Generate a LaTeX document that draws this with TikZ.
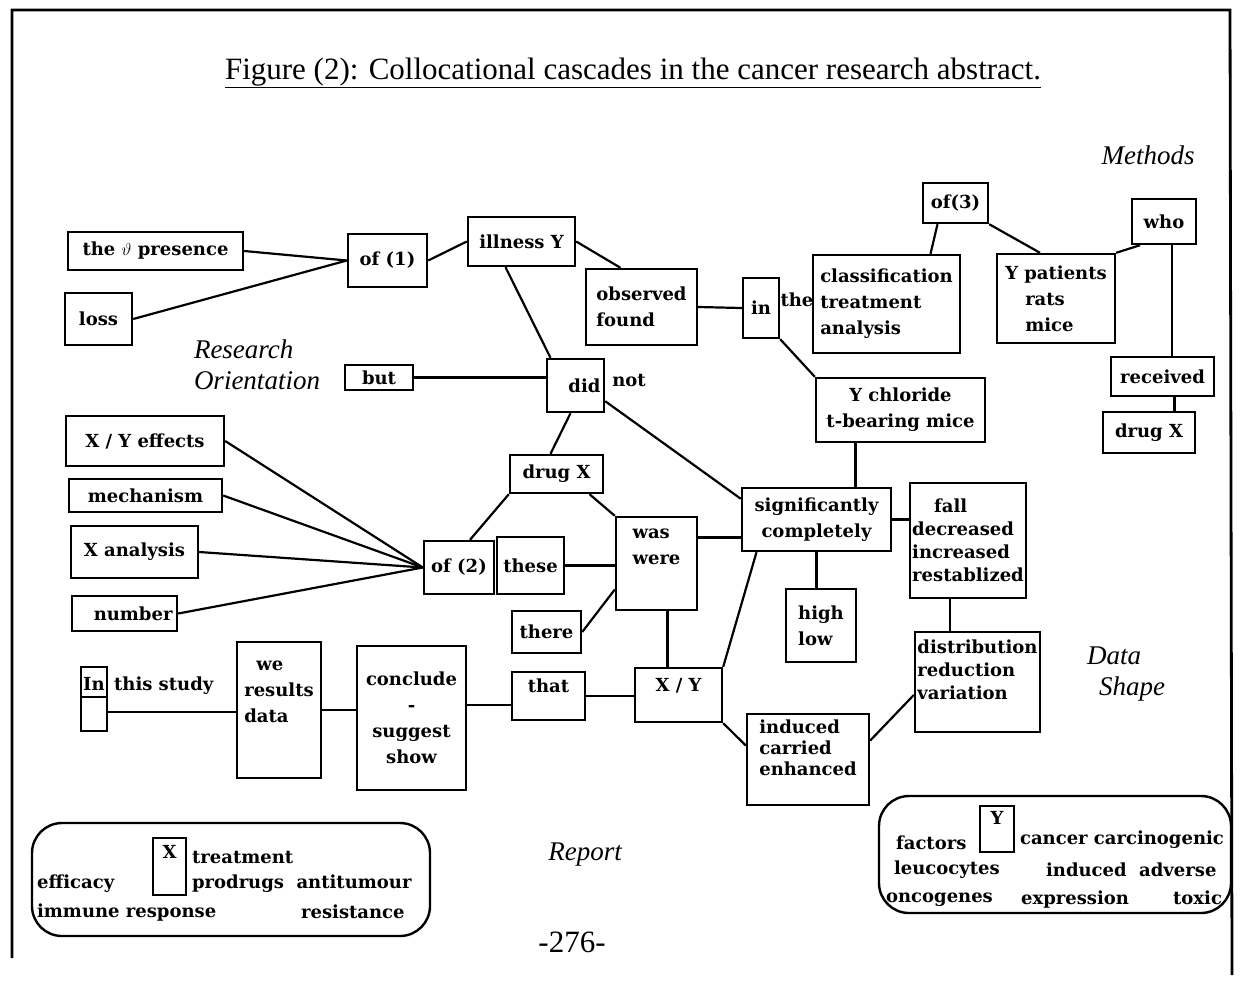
\documentclass[tikz,border=0pt]{standalone}
\usepackage{fontspec}
\setmainfont{Liberation Serif}
\newfontfamily\boxfont{DejaVu Serif}
\usepackage{tikz}
\usetikzlibrary{positioning}

\begin{document}
\begin{tikzpicture}[
    x=1pt, y=-1pt,
    every node/.style={font=\boxfont\bfseries\fontsize{18}{26}\selectfont, inner sep=2pt},
    wbox/.style={draw, rectangle, line width=2.4pt, align=left},
    sz/.style 2 args={minimum width=#1pt, minimum height=#2pt},
    region/.style={font=\rmfamily\itshape\fontsize{27}{31}\selectfont, align=left, inner sep=0pt},
    caption/.style={font=\rmfamily\fontsize{31}{35}\selectfont, inner sep=0pt},
    every path/.style={line width=2.2pt},
  ]
\tikzset{word/.style={inner sep=0pt, anchor=west}}
  \useasboundingbox (0,0) rectangle (1244,986);
  \draw[line width=2.8pt] (12,958) -- (12,10) -- (1230,10) -- (1232,975);

  \node[caption] (title) at (633,73)
    {\underline{Figure (2): Collocational cascades in the cancer research abstract.}};
  \node[caption] (page) at (572,942) {-276-};

  \node[region] (methods)  at (1148,155) {Methods};
  \node[region] (research) at (257,365)  {Research\\Orientation};
  \node[region] (datashp)  at (1126,674) {Data\\\hspace*{12pt}Shape};
  \node[region] (report)   at (585,855)  {Report};

  % research orientation
  \node[wbox, sz={175}{38}] (presence) at (155.5,251)   {the $\vartheta$ presence};
  \node[wbox, sz={67}{52}]  (loss)     at (98.5,319)    {loss};
  \node[wbox, sz={79}{53}]  (ofone)    at (387.5,260.5) {of (1)};
  \node[wbox, sz={107}{49}] (illness)  at (521.5,241.5) {illness Y};
  \node[wbox, sz={111}{76}] (observed) at (641.5,307)   {observed\\found};
  \node[wbox, sz={36}{60}]  (inbox)    at (761,308)     {in};
  \node[word, anchor=center] (the) at (797,300) {the};
  \node[wbox, sz={68}{25}]  (but)      at (379,377.5)   {but};
  \node[wbox, sz={57}{53}, align=right, text width=50pt] (didnot) at (575.5,385.5) {did};
  \node[word, anchor=center] (not) at (629,380) {not};

  % methods
  \node[wbox, sz={147}{98}] (classif)  at (886.5,304)   {classification\\treatment\\analysis};
  \node[wbox, sz={65}{40}]  (ofthree)  at (955.5,203)   {of(3)};
  \node[wbox, sz={118}{89}] (patients) at (1056,298.5)  {Y patients\\\hspace*{20pt}rats\\\hspace*{20pt}mice};
  \node[wbox, sz={64}{45}]  (who)      at (1164,221.5)  {who};
  \node[wbox, sz={103}{39}] (received) at (1162.5,376.5){received};
  \node[wbox, sz={92}{41}]  (drugr)    at (1149,432.5)  {drug X};
  \node[wbox, sz={169}{64}, align=center] (chloride) at (900.5,410) {Y chloride\\t-bearing mice};

  % of (2) group
  \node[wbox, sz={158}{50}] (xyeffects) at (145,441)    {X / Y effects};
  \node[wbox, sz={153}{33}] (mechanism) at (145.5,495.5){mechanism};
  \node[wbox, sz={127}{52}] (xanalysis) at (134.5,552)  {X analysis};
  \node[wbox, sz={105}{35}, align=right, text width=96pt] (number) at (124.5,613.5) {number};
  \node[wbox, sz={70}{53}]  (oftwo)    at (459,567.5)   {of (2)};
  \node[wbox, sz={67}{57}]  (these)    at (530.5,565.5) {these};
  \node[wbox, sz={93}{38}]  (drugm)    at (556.5,474)   {drug X};
  \node[wbox, sz={81}{93}]  (waswere)  at (656.5,563.5) {was\\were\\[8pt]\mbox{}};
  \node[wbox, sz={69}{42}]  (there)    at (546.5,632)   {there};

  % data shape
  \node[wbox, sz={149}{63}, align=center] (signif) at (816.5,519.5) {significantly\\completely};
  \node[wbox, sz={114}{115}, font=\boxfont\bfseries\fontsize{18}{23}\selectfont] (fall) at (968,540.5)
    {\hspace*{22pt}fall\\decreased\\increased\\restablized};
  \node[wbox, sz={70}{73}]  (highlow)  at (821,625.5)   {high\\low};
  \node[wbox, sz={125}{100}, font=\boxfont\bfseries\fontsize{18}{23}\selectfont] (distrib) at (977.5,682)
    {distribution\\reduction\\variation\\[2pt]\mbox{}};

  % report
  \node[wbox, sz={26}{64}, inner sep=1pt, text depth=30pt] (inbx) at (94,699) {In};
  \draw[line width=1.6pt] ([yshift=2pt]inbx.west) -- ([yshift=2pt]inbx.east);
  \node[word] (study) at (113,686) {this study};
  \node[wbox, sz={84}{136}] (results)  at (279,710)     {\hspace*{12pt}we\\results\\data\\[10pt]\mbox{}};
  \node[wbox, sz={109}{144}, align=center] (conclude) at (411.5,718) {conclude\\-\\suggest\\show};
  \node[wbox, sz={73}{48}]  (that)     at (548.5,696)   {that\\[-6pt]\mbox{}};
  \node[wbox, sz={87}{54}]  (xy)       at (678.5,695)   {X / Y\\[-6pt]\mbox{}};
  \node[wbox, sz={122}{91}, font=\boxfont\bfseries\fontsize{18}{21}\selectfont] (induced) at (808,759.5)
    {induced\\carried\\enhanced\\[2pt]\mbox{}};

  % word lists
  \node[draw, line width=2.4pt, rounded corners=30pt, sz={398}{113}] (listx) at (231,879.5) {};
  \node[wbox, sz={33}{57}, inner sep=1pt, text depth=30pt] (xbox) at (169.5,866.5) {X};
  \node[word] at (191,857) {treatment};
  \node[word] at (191,884) {prodrugs\ \ antitumour};
  \node[word] at (36,884)  {efficacy};
  \node[word] at (36,913)  {immune response};
  \node[word] at (300,912) {resistance};

  \node[draw, line width=2.4pt, rounded corners=30pt, sz={352}{117}] (listy) at (1055,854.5) {};
  \node[wbox, sz={34}{46}, inner sep=1pt, text depth=22pt] (ybox) at (997,829) {Y};
  \node[word] at (895,843)  {factors};
  \node[word] at (1019,840) {cancer carcinogenic};
  \node[word] at (893,870)  {leucocytes};
  \node[word] at (1045,870) {induced\ \ adverse};
  \node[word] at (885,900)  {oncogenes};
  \node[word] at (1020,900) {expression};
  \node[word] at (1172,898) {toxic};

  \draw (presence.east) -- (ofone.west);
  \draw (loss.east) -- (ofone.west);
  \draw (ofone.east) -- (illness.west);
  \draw (illness.east) -- ([xshift=-21pt]observed.north);
  \draw ([xshift=-16pt]illness.south) -- ([xshift=-25pt]didnot.north);
  \draw (observed.east) -- (inbox.west);
  \draw (inbox.south east) -- (chloride.north west);
  \draw ([xshift=-18pt]ofthree.south) -- ([xshift=44pt]classif.north);
  \draw (ofthree.south east) -- ([xshift=-16pt]patients.north);
  \draw (patients.north east) -- ([xshift=-24pt]who.south);
  \draw ([xshift=8pt]who.south) -- ([xshift=8pt]who.south |- received.north);
  \draw ([xshift=12pt]received.south) -- ([xshift=12pt]received.south |- drugr.north);
  \draw (but.east) -- (but.east -| didnot.west);
  \draw ([xshift=-5pt]didnot.south) -- ([xshift=-6pt]drugm.north);
  \draw ([yshift=12pt]didnot.south east) -- ([yshift=-12pt]signif.north west);
  \draw ([xshift=-45pt]chloride.south) -- ([xshift=-45pt]chloride.south |- signif.north);
  \draw (xyeffects.east) -- (oftwo.west);
  \draw (mechanism.east) -- (oftwo.west);
  \draw (xanalysis.east) -- (oftwo.west);
  \draw (number.east) -- (oftwo.west);
  \draw ([xshift=11pt]oftwo.north) -- (drugm.south west);
  \draw (these.east) -- (these.east -| waswere.west);
  \draw ([xshift=33pt]drugm.south) -- (waswere.north west);
  \draw (there.east) -- ([yshift=-26pt]waswere.west);
  \draw ([yshift=26pt]waswere.east) -- ([yshift=26pt]waswere.east -| signif.west);
  \draw ([xshift=11pt]waswere.south) -- ([xshift=11pt]waswere.south |- xy.north);
  \draw (signif.south) -- (signif.south |- highlow.north);
  \draw (signif.east) -- (signif.east -| fall.west);
  \draw ([xshift=-60pt]signif.south) -- (xy.north east);
  \draw ([xshift=-18pt]fall.south) -- ([xshift=-18pt]fall.south |- distrib.north);
  \draw ([yshift=-13pt]distrib.west) -- ([yshift=19pt]induced.east);
  \draw (xy.south east) -- ([yshift=14pt]induced.west);
  \draw ([yshift=-13pt]inbx.east) -- ([yshift=-13pt]inbx.east -| results.west);
  \draw (results.east) -- (results.east -| conclude.west);
  \draw ([yshift=13pt]conclude.east) -- ([yshift=13pt]conclude.east -| that.west);
  \draw (that.east) -- (that.east -| xy.west);
\end{tikzpicture}
\end{document}
